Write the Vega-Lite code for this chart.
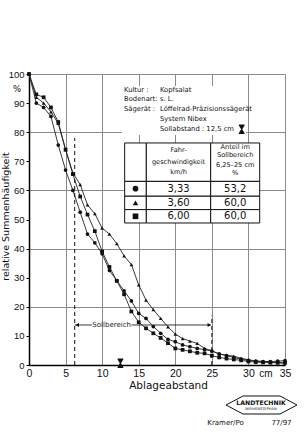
{
  "$schema": "https://vega.github.io/schema/vega-lite/v6.json",
  "width": 256,
  "height": 291,
  "autosize": {"type": "none"},
  "padding": {"left": 29, "top": 74, "right": 21, "bottom": 67},
  "background": "white",
  "config": {"view": {"stroke": null}, "font": "DejaVu Sans"},
  "datasets": {
    "curves": [
      {"s": "3,33", "x": 0, "y": 100}, {"s": "3,33", "x": 1, "y": 90}, {"s": "3,33", "x": 2, "y": 88.5}, {"s": "3,33", "x": 3, "y": 85.4}, {"s": "3,33", "x": 4, "y": 75.6}, {"s": "3,33", "x": 5, "y": 67}, {"s": "3,33", "x": 6, "y": 60}, {"s": "3,33", "x": 7, "y": 52.5}, {"s": "3,33", "x": 8, "y": 45}, {"s": "3,33", "x": 9, "y": 42}, {"s": "3,33", "x": 10, "y": 38.2}, {"s": "3,33", "x": 11, "y": 32.5}, {"s": "3,33", "x": 12, "y": 29}, {"s": "3,33", "x": 13, "y": 25.5}, {"s": "3,33", "x": 14, "y": 22}, {"s": "3,33", "x": 15, "y": 17.7}, {"s": "3,33", "x": 16, "y": 16}, {"s": "3,33", "x": 17, "y": 13.2}, {"s": "3,33", "x": 18, "y": 10.9}, {"s": "3,33", "x": 19, "y": 8.8}, {"s": "3,33", "x": 20, "y": 8}, {"s": "3,33", "x": 21, "y": 6.9}, {"s": "3,33", "x": 22, "y": 6.3}, {"s": "3,33", "x": 23, "y": 5.7}, {"s": "3,33", "x": 24, "y": 5.3}, {"s": "3,33", "x": 25, "y": 4.8}, {"s": "3,33", "x": 26, "y": 3.8}, {"s": "3,33", "x": 27, "y": 3.2}, {"s": "3,33", "x": 28, "y": 2.6}, {"s": "3,33", "x": 29, "y": 2}, {"s": "3,33", "x": 30, "y": 1.6}, {"s": "3,33", "x": 31, "y": 1.3}, {"s": "3,33", "x": 32, "y": 1.2}, {"s": "3,33", "x": 33, "y": 1.2}, {"s": "3,33", "x": 34, "y": 1.3}, {"s": "3,33", "x": 35, "y": 1.5},
      {"s": "3,60", "x": 0, "y": 100}, {"s": "3,60", "x": 1, "y": 92}, {"s": "3,60", "x": 2, "y": 90}, {"s": "3,60", "x": 3, "y": 87}, {"s": "3,60", "x": 4, "y": 83}, {"s": "3,60", "x": 5, "y": 74}, {"s": "3,60", "x": 6, "y": 66}, {"s": "3,60", "x": 7, "y": 62}, {"s": "3,60", "x": 8, "y": 55}, {"s": "3,60", "x": 9, "y": 52}, {"s": "3,60", "x": 10, "y": 47}, {"s": "3,60", "x": 11, "y": 45}, {"s": "3,60", "x": 12, "y": 41.7}, {"s": "3,60", "x": 13, "y": 37.5}, {"s": "3,60", "x": 14, "y": 34.5}, {"s": "3,60", "x": 15, "y": 27.5}, {"s": "3,60", "x": 16, "y": 22.3}, {"s": "3,60", "x": 17, "y": 19}, {"s": "3,60", "x": 18, "y": 16}, {"s": "3,60", "x": 19, "y": 13.1}, {"s": "3,60", "x": 20, "y": 10.6}, {"s": "3,60", "x": 21, "y": 9.1}, {"s": "3,60", "x": 22, "y": 8.2}, {"s": "3,60", "x": 23, "y": 7.4}, {"s": "3,60", "x": 24, "y": 5.7}, {"s": "3,60", "x": 25, "y": 4.9}, {"s": "3,60", "x": 26, "y": 3.8}, {"s": "3,60", "x": 27, "y": 3.4}, {"s": "3,60", "x": 28, "y": 3}, {"s": "3,60", "x": 29, "y": 2.3}, {"s": "3,60", "x": 30, "y": 1.8}, {"s": "3,60", "x": 31, "y": 1.4}, {"s": "3,60", "x": 32, "y": 1.2}, {"s": "3,60", "x": 33, "y": 1}, {"s": "3,60", "x": 34, "y": 0.8}, {"s": "3,60", "x": 35, "y": 0.6},
      {"s": "6,00", "x": 0, "y": 100}, {"s": "6,00", "x": 1, "y": 93}, {"s": "6,00", "x": 2, "y": 92}, {"s": "6,00", "x": 3, "y": 88.5}, {"s": "6,00", "x": 4, "y": 83.5}, {"s": "6,00", "x": 5, "y": 74}, {"s": "6,00", "x": 6, "y": 65.6}, {"s": "6,00", "x": 7, "y": 57.9}, {"s": "6,00", "x": 8, "y": 51.7}, {"s": "6,00", "x": 9, "y": 46}, {"s": "6,00", "x": 10, "y": 39}, {"s": "6,00", "x": 11, "y": 33.7}, {"s": "6,00", "x": 12, "y": 28.9}, {"s": "6,00", "x": 13, "y": 24.3}, {"s": "6,00", "x": 14, "y": 18.4}, {"s": "6,00", "x": 15, "y": 14.7}, {"s": "6,00", "x": 16, "y": 12.6}, {"s": "6,00", "x": 17, "y": 10.9}, {"s": "6,00", "x": 18, "y": 9.3}, {"s": "6,00", "x": 19, "y": 7.5}, {"s": "6,00", "x": 20, "y": 5.7}, {"s": "6,00", "x": 21, "y": 5.2}, {"s": "6,00", "x": 22, "y": 4.7}, {"s": "6,00", "x": 23, "y": 4.2}, {"s": "6,00", "x": 24, "y": 4}, {"s": "6,00", "x": 25, "y": 3.2}, {"s": "6,00", "x": 26, "y": 2.6}, {"s": "6,00", "x": 27, "y": 2.2}, {"s": "6,00", "x": 28, "y": 1.9}, {"s": "6,00", "x": 29, "y": 1.6}, {"s": "6,00", "x": 30, "y": 1.2}, {"s": "6,00", "x": 31, "y": 1}, {"s": "6,00", "x": 32, "y": 0.9}, {"s": "6,00", "x": 33, "y": 0.8}, {"s": "6,00", "x": 34, "y": 0.8}, {"s": "6,00", "x": 35, "y": 0.8}
    ],
    "notes": [
      {"x": 12.99, "y": 94.5, "t": "Kultur :"},
      {"x": 17.91, "y": 94.5, "t": "Kopfsalat"},
      {"x": 12.99, "y": 91.3, "t": "Bodenart:"},
      {"x": 17.91, "y": 91.3, "t": "s. L."},
      {"x": 12.99, "y": 87.97, "t": "Sägerät :"},
      {"x": 17.91, "y": 87.97, "t": "Löffelrad-Präzisionssägerät"},
      {"x": 17.91, "y": 84.5, "t": "System Nibex"},
      {"x": 17.91, "y": 81.0, "t": "Sollabstand : 12,5 cm"}
    ],
    "cells": [
      {"x": 13.08, "x2": 16.04, "y": 63.1, "y2": 76.3}, {"x": 16.04, "x2": 24.84, "y": 63.1, "y2": 76.3}, {"x": 24.84, "x2": 31.54, "y": 63.1, "y2": 76.3},
      {"x": 13.08, "x2": 16.04, "y": 58.0, "y2": 63.1}, {"x": 16.04, "x2": 24.84, "y": 58.0, "y2": 63.1}, {"x": 24.84, "x2": 31.54, "y": 58.0, "y2": 63.1},
      {"x": 13.08, "x2": 16.04, "y": 53.4, "y2": 58.0}, {"x": 16.04, "x2": 24.84, "y": 53.4, "y2": 58.0}, {"x": 24.84, "x2": 31.54, "y": 53.4, "y2": 58.0},
      {"x": 13.08, "x2": 16.04, "y": 48.8, "y2": 53.4}, {"x": 16.04, "x2": 24.84, "y": 48.8, "y2": 53.4}, {"x": 24.84, "x2": 31.54, "y": 48.8, "y2": 53.4}
    ],
    "head": [
      {"x": 20.44, "y": 73.8, "t": "Fahr-"},
      {"x": 20.44, "y": 69.8, "t": "geschwindigkeit"},
      {"x": 20.44, "y": 66.3, "t": "km/h"},
      {"x": 28.19, "y": 75.0, "t": "Anteil im"},
      {"x": 28.19, "y": 72.2, "t": "Sollbereich"},
      {"x": 28.19, "y": 68.8, "t": "6,25–25 cm"},
      {"x": 28.19, "y": 66.0, "t": "%"}
    ],
    "rows": [
      {"s": "3,33", "x": 14.56, "xv": 20.44, "xa": 28.19, "y": 60.6, "a": "53,2"},
      {"s": "3,60", "x": 14.56, "xv": 20.44, "xa": 28.19, "y": 55.7, "a": "60,0"},
      {"s": "6,00", "x": 14.56, "xv": 20.44, "xa": 28.19, "y": 51.1, "a": "60,0"}
    ]
  },
  "encoding": {
    "x": {"field": "x", "type": "quantitative", "scale": {"domain": [0, 35], "nice": false, "zero": false},
      "axis": {"values": [0, 5, 10, 15, 20, 25, 30, 35], "grid": true, "gridColor": "#8a8a8a", "gridWidth": 1, "ticks": false, "labelPadding": 3, "labelFont": "Liberation Sans", "labelFontSize": 10.5, "labelColor": "#111", "labelFlush": false, "domainColor": "#000", "domainWidth": 1.5, "title": "Ablageabstand", "titleFont": "DejaVu Sans", "titleFontSize": 10.5, "titleFontWeight": "normal", "titleColor": "#111", "titleX": 139, "titleY": 20, "titleBaseline": "middle", "titleAlign": "center"}},
    "y": {"field": "y", "type": "quantitative", "scale": {"domain": [0, 100], "nice": false, "zero": false},
      "axis": {"values": [0, 10, 20, 30, 40, 50, 60, 70, 80, 90, 100], "grid": true, "gridColor": "#8a8a8a", "gridOpacity": {"condition": {"test": "datum.value % 20 === 0", "value": 1}, "value": 0}, "tickSize": 3, "tickColor": "#000", "labelPadding": 2, "labelFont": "Liberation Sans", "labelFontSize": 9.5, "labelColor": "#111", "labelFlush": false, "domainColor": "#000", "domainWidth": 1.5, "title": "relative Summenhäufigkeit", "titleFont": "DejaVu Sans", "titleFontSize": 9.5, "titleFontWeight": "normal", "titleColor": "#111", "titleX": -24, "titleY": 142, "titleAlign": "center", "titleBaseline": "middle"}}
  },
  "layer": [
    {"data": {"values": [{"x": 12.7, "x2": 29.7, "y": 79.0, "y2": 95.9}]}, "mark": {"type": "rect", "fill": "white"}, "encoding": {"x2": {"field": "x2"}, "y2": {"field": "y2"}}},
    {"data": {"name": "curves"}, "mark": {"type": "line", "color": "#222", "strokeWidth": 0.9}, "encoding": {"detail": {"field": "s"}}},
    {"data": {"name": "curves"}, "mark": {"type": "point", "filled": true, "color": "#111", "opacity": 1, "size": 14}, "encoding": {"shape": {"field": "s", "type": "nominal", "scale": {"domain": ["3,33", "3,60", "6,00"], "range": ["circle", "triangle-up", "square"]}, "legend": null}}},
    {"data": {"values": [{"x": 6.25, "y": 0, "y2": 78}, {"x": 25, "y": 0, "y2": 17}]}, "mark": {"type": "rule", "color": "#111", "strokeWidth": 1, "strokeDash": [4, 3]}, "encoding": {"y2": {"field": "y2"}}},
    {"data": {"values": [{"x": 6.25, "x2": 8.6, "y": 13.75}, {"x": 14.0, "x2": 24.9, "y": 13.75}]}, "mark": {"type": "rule", "color": "#222", "strokeWidth": 0.9}, "encoding": {"x2": {"field": "x2"}}},
    {"data": {"values": [{"x": 6.6, "y": 13.75}]}, "mark": {"type": "point", "shape": "triangle-left", "filled": true, "color": "#111", "size": 16, "opacity": 1}},
    {"data": {"values": [{"x": 24.65, "y": 13.75}]}, "mark": {"type": "point", "shape": "triangle-right", "filled": true, "color": "#111", "size": 16, "opacity": 1}},
    {"data": {"values": [{"x": 11.3, "y": 13.75, "t": "Sollbereich"}]}, "mark": {"type": "text", "color": "#222", "fontSize": 7, "align": "center", "baseline": "middle"}, "encoding": {"text": {"field": "t"}}},
    {"data": {"values": [{"x": 12.5, "y": 0.6}, {"x": 29.08, "y": 81.0}]}, "mark": {"type": "point", "shape": "M-0.6,-1L0.6,-1L0.6,-0.8L0.12,0L0.6,0.8L0.6,1L-0.6,1L-0.6,0.8L-0.12,0L-0.6,-0.8Z", "filled": true, "color": "#111", "size": 90, "opacity": 1}},
    {"data": {"name": "notes"}, "mark": {"type": "text", "color": "#111", "fontSize": 6.8, "align": "left", "baseline": "middle"}, "encoding": {"text": {"field": "t"}}},
    {"data": {"name": "cells"}, "mark": {"type": "rect", "fill": "white", "stroke": "#111", "strokeWidth": 1}, "encoding": {"x2": {"field": "x2"}, "y2": {"field": "y2"}}},
    {"data": {"name": "head"}, "mark": {"type": "text", "color": "#111", "fontSize": 6.6, "align": "center", "baseline": "middle"}, "encoding": {"text": {"field": "t"}}},
    {"data": {"name": "rows"}, "mark": {"type": "point", "filled": true, "color": "#111", "size": 32, "opacity": 1}, "encoding": {"shape": {"field": "s", "type": "nominal", "scale": {"domain": ["3,33", "3,60", "6,00"], "range": ["circle", "triangle-up", "square"]}, "legend": null}}},
    {"data": {"name": "rows"}, "mark": {"type": "text", "color": "#111", "fontSize": 10, "align": "center", "baseline": "middle"}, "encoding": {"x": {"field": "xv", "type": "quantitative"}, "text": {"field": "s"}}},
    {"data": {"name": "rows"}, "mark": {"type": "text", "color": "#111", "fontSize": 10, "align": "center", "baseline": "middle"}, "encoding": {"x": {"field": "xa", "type": "quantitative"}, "text": {"field": "a"}}},
    {"data": {"values": [{"x": 0, "y": 94.7, "t": "%"}]}, "mark": {"type": "text", "color": "#111", "fontSize": 8.5, "align": "center", "baseline": "middle", "dx": -12}, "encoding": {"text": {"field": "t"}}},
    {"data": {"values": [{"x": 32.4, "y": 0, "t": "cm"}]}, "mark": {"type": "text", "color": "#111", "font": "Liberation Sans", "fontSize": 10, "align": "center", "baseline": "middle", "dy": 8.5}, "encoding": {"text": {"field": "t"}}},
    {"data": {"values": [{"x": 26.93, "y": -13.75, "i": 0}, {"x": 29.26, "y": -10.65, "i": 1}, {"x": 34.32, "y": -10.65, "i": 2}, {"x": 36.64, "y": -13.75, "i": 3}, {"x": 34.32, "y": -16.84, "i": 4}, {"x": 29.26, "y": -16.84, "i": 5}, {"x": 26.93, "y": -13.75, "i": 6}]}, "mark": {"type": "line", "color": "#111", "strokeWidth": 1}, "encoding": {"order": {"field": "i", "type": "quantitative"}}},
    {"data": {"values": [{"x": 31.72, "y": -12.9, "t": "LANDTECHNIK"}]}, "mark": {"type": "text", "color": "#111", "fontSize": 6.2, "fontWeight": "bold", "align": "center", "baseline": "middle"}, "encoding": {"text": {"field": "t"}}},
    {"data": {"values": [{"x": 31.72, "y": -15.1, "t": "WEIHENSTEPHAN"}]}, "mark": {"type": "text", "color": "#111", "fontSize": 3.6, "align": "center", "baseline": "middle"}, "encoding": {"text": {"field": "t"}}},
    {"data": {"values": [{"x": 26.87, "y": -20.0, "t": "Kramer/Po"}, {"x": 34.52, "y": -20.0, "t": "77/97"}]}, "mark": {"type": "text", "color": "#111", "fontSize": 7, "align": "center", "baseline": "middle"}, "encoding": {"text": {"field": "t"}}}
  ]
}
